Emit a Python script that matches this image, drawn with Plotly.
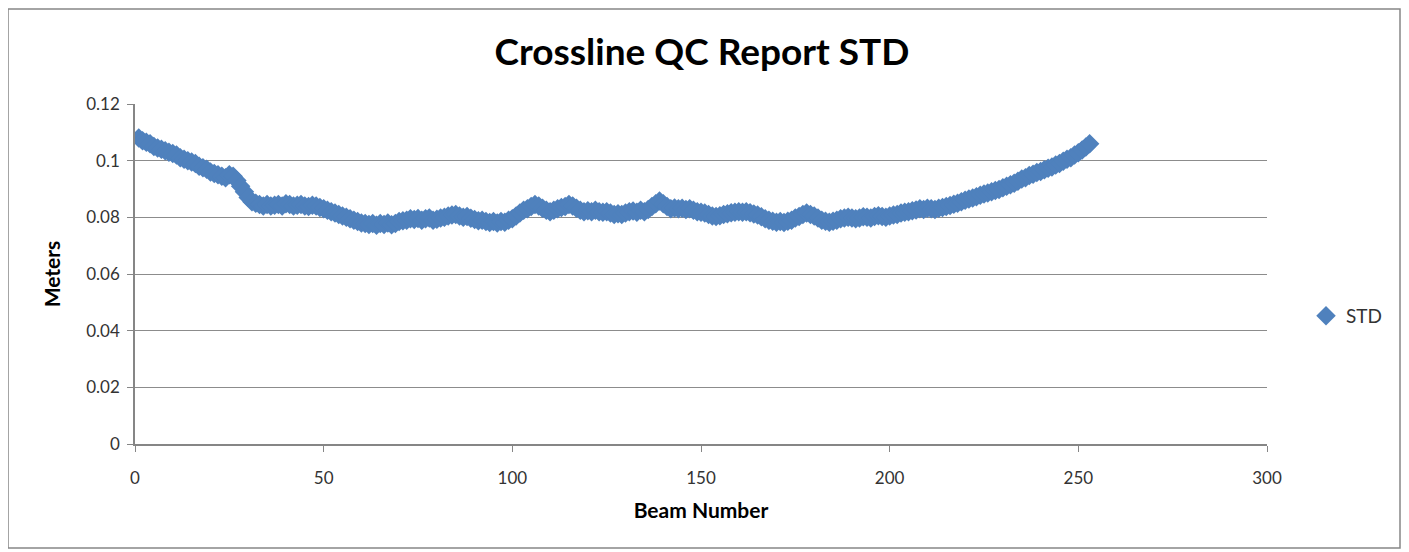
import plotly.graph_objects as go

beam_numbers = list(range(1, 254))

std_values = [
    0.108, 0.107, 0.1065, 0.106, 0.105, 0.1045, 0.104, 0.1035, 0.103, 0.1025,
    0.102, 0.101, 0.1005, 0.100, 0.0995, 0.099, 0.098, 0.0975, 0.097, 0.096,
    0.0955, 0.095, 0.0945, 0.094, 0.095, 0.0945, 0.093, 0.091, 0.089, 0.087,
    0.0855, 0.085, 0.0845, 0.084, 0.0845, 0.084, 0.0843, 0.0845, 0.084, 0.0848,
    0.0845, 0.084, 0.0843, 0.0845, 0.084, 0.0838, 0.0843, 0.084, 0.0835, 0.083,
    0.0825, 0.082, 0.0815, 0.081, 0.0805, 0.080, 0.0795, 0.079, 0.0785, 0.078,
    0.0778, 0.0775, 0.0778, 0.0772, 0.0778, 0.0775, 0.078, 0.0774, 0.0778, 0.0785,
    0.0788, 0.079, 0.0795, 0.0792, 0.0796, 0.079, 0.0795, 0.0798, 0.079, 0.0793,
    0.0798, 0.080, 0.0805, 0.0808, 0.081, 0.0805, 0.080, 0.0803, 0.0797, 0.0792,
    0.0788, 0.079, 0.0785, 0.0782, 0.0785, 0.078, 0.0785, 0.0783, 0.079, 0.0795,
    0.0805, 0.0815, 0.0825, 0.083, 0.0838, 0.0845, 0.084, 0.0832, 0.0825, 0.082,
    0.0825, 0.083, 0.0835, 0.0838, 0.0845, 0.084, 0.0832, 0.0825, 0.082, 0.0823,
    0.082, 0.0825, 0.082, 0.0818, 0.082, 0.0815, 0.081, 0.0813, 0.081, 0.0815,
    0.082, 0.0822, 0.0818, 0.0825, 0.082, 0.0828, 0.0838, 0.0848, 0.0858, 0.0848,
    0.0838, 0.083, 0.0833, 0.083, 0.0832, 0.0828, 0.083, 0.0825, 0.082, 0.0818,
    0.0815, 0.081, 0.0805, 0.0803, 0.0806, 0.081, 0.0813, 0.0816, 0.0818, 0.082,
    0.0818, 0.082, 0.0816, 0.0812, 0.0808, 0.0802, 0.0795, 0.079, 0.0786, 0.0783,
    0.0785, 0.0782, 0.0786, 0.079, 0.0798, 0.0803, 0.081, 0.0815, 0.081, 0.0805,
    0.0798, 0.079, 0.0786, 0.0783, 0.0786, 0.079, 0.0795, 0.0798, 0.080, 0.0798,
    0.0795, 0.0798, 0.0802, 0.080, 0.0798, 0.0803, 0.0806, 0.0803, 0.080, 0.0805,
    0.0808, 0.081, 0.0815, 0.0818, 0.082, 0.0823, 0.0826, 0.083, 0.0828, 0.0832,
    0.083, 0.0828, 0.0832, 0.0835, 0.0838, 0.0842, 0.0846, 0.085, 0.0855, 0.086,
    0.0865, 0.0868, 0.0873, 0.0878, 0.0882, 0.0886, 0.089, 0.0895, 0.0898, 0.0904,
    0.091, 0.0915, 0.092, 0.0927, 0.0935, 0.094, 0.0948, 0.0952, 0.0958, 0.0962,
    0.0968, 0.0973, 0.0978, 0.0985, 0.099, 0.0998, 0.1005, 0.101, 0.102, 0.1028,
    0.1038, 0.1048, 0.106,
]

x_ticks = [0, 50, 100, 150, 200, 250, 300]
y_ticks = [0, 0.02, 0.04, 0.06, 0.08, 0.1, 0.12]
y_tick_labels = ["0", "0.02", "0.04", "0.06", "0.08", "0.1", "0.12"]

FONT = "Lato"
# page body has an 8px margin; the figure is sized/offset to compensate
W, H = 1401, 544
L, R, T, B = 127, 142, 96, 108
PW, PH = W - L - R, H - T - B  # 1132 x 340

fig = go.Figure()
fig.add_trace(go.Scatter(
    x=beam_numbers, y=std_values, mode="markers", name="STD",
    marker=dict(symbol="diamond", size=15, color="#4F81BD",
                line=dict(width=0)),
))

fig.update_layout(
    width=W, height=H,
    margin=dict(l=L, r=R, t=T, b=B),
    paper_bgcolor="white", plot_bgcolor="white",
    title=dict(text="<b>Crossline QC Report STD</b>", x=(702 - 8) / W,
               xanchor="center", y=1 - (52 - 8) / H, yanchor="middle",
               font=dict(family=FONT, size=37, color="black")),
    font=dict(family=FONT, size=17, color="#333333"),
    showlegend=True,
    legend=dict(x=(1306 - 135) / PW, y=(444 - 316) / PH,
                xanchor="left", yanchor="middle",
                font=dict(family=FONT, size=19, color="#333333"),
                bgcolor="rgba(0,0,0,0)", itemwidth=30),
    xaxis=dict(range=[0, 300], tickvals=x_ticks, showgrid=False,
               showline=True, linecolor="#868686", linewidth=1.5,
               ticks="outside", ticklen=6, tickcolor="#868686",
               ticklabelstandoff=12,
               zeroline=False,
               title=dict(text="<b>Beam Number</b>", standoff=16,
                          font=dict(family=FONT, size=21, color="black"))),
    yaxis=dict(range=[0, 0.12], tickvals=y_ticks, ticktext=y_tick_labels,
               showgrid=True, gridcolor="#8c8c8c", gridwidth=1,
               showline=True, linecolor="#868686", linewidth=1.5,
               ticks="outside", ticklen=6, tickcolor="#868686",
               ticklabelstandoff=4,
               zeroline=False,
               title=dict(text="<b>Meters</b>", standoff=20,
                          font=dict(family=FONT, size=21, color="black"))),
)

# chart-area border
fig.add_shape(type="rect", xref="paper", yref="paper",
              x0=(0 - L) / PW, x1=(1392 - L) / PW,
              y0=(T + PH - 540) / PH, y1=(T + PH - 1) / PH,
              line=dict(color="#868686", width=1.5), fillcolor="rgba(0,0,0,0)",
              layer="below")

fig.write_html("out.html")
